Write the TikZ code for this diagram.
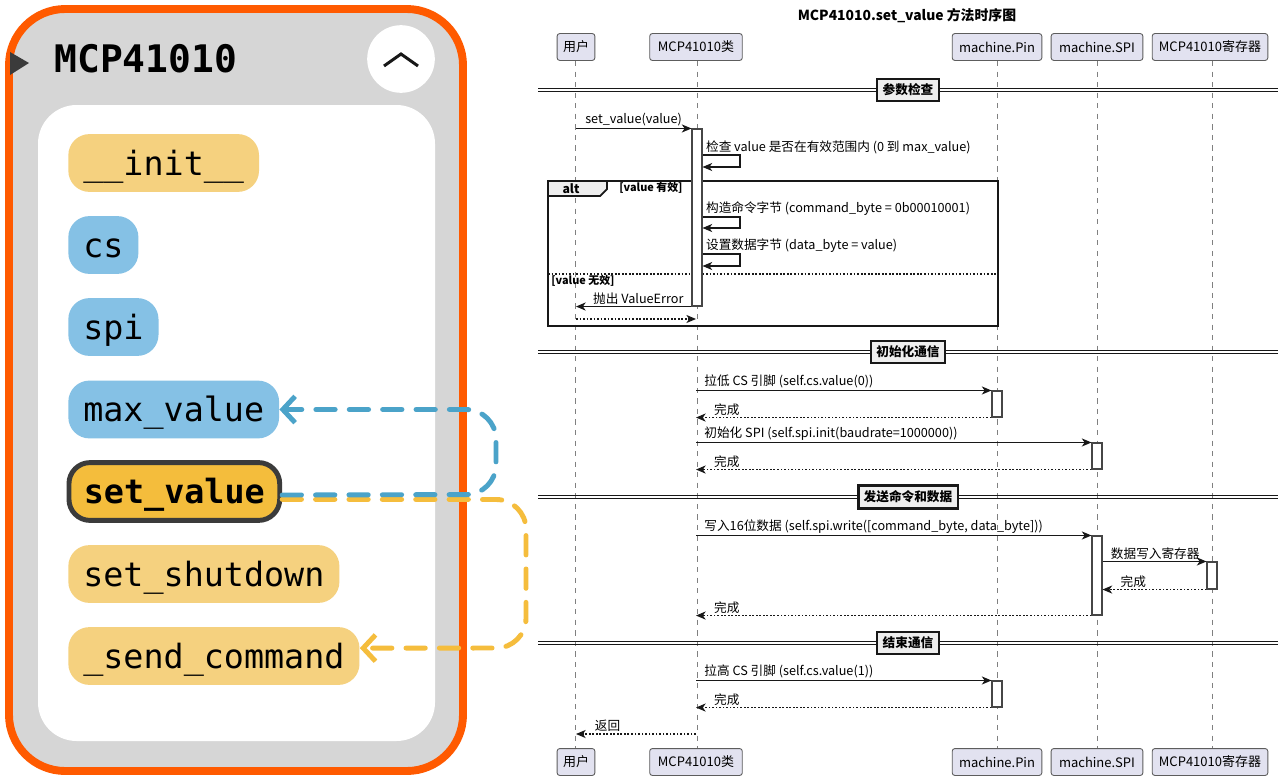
\documentclass[tikz,border=0pt]{standalone}
\usepackage{fontspec}
\setmainfont{Noto Sans CJK SC}
\newfontfamily\codefont{DejaVu Sans Mono}
\usetikzlibrary{arrows.meta,fit}
\definecolor{rim}{RGB}{255,90,0}
\definecolor{panel}{RGB}{214,214,214}
\definecolor{attr}{RGB}{133,193,229}
\definecolor{meth}{RGB}{245,209,127}
\definecolor{cur}{RGB}{244,189,60}
\definecolor{callblue}{RGB}{75,163,201}
\definecolor{callyel}{RGB}{245,189,61}
\definecolor{partfill}{RGB}{226,226,240}
\definecolor{sepfill}{RGB}{238,238,238}
\definecolor{ink}{RGB}{24,24,24}
\begin{document}
\begin{tikzpicture}[x=0.02cm, y=-0.02cm,
  pill/.style={anchor=west, rounded corners=12pt, minimum height=32.9pt, inner xsep=8.5pt, font=\codefont\fontsize{19}{19}\selectfont, text height=17pt, text depth=2.8pt},
  call/.style={line width=2.8pt, line cap=round, line join=round, dash pattern=on 11pt off 8pt, rounded corners=17pt, -{Straight Barb[length=7pt,width=15pt]}},
  part/.style={draw=ink!70, fill=partfill, line width=0.5pt, rounded corners=1.5pt, minimum height=15.3pt, font=\fontsize{7.4}{8}\selectfont, inner xsep=2pt},
  life/.style={draw=ink!55, line width=0.5pt, dash pattern=on 3pt off 3pt},
  act/.style={draw=ink!80, fill=white, line width=0.6pt, inner sep=0},
  msg/.style={draw=ink, line width=0.6pt, -{Stealth[length=5.5pt,width=4.6pt,inset=1.6pt]}},
  rtn/.style={msg, dash pattern=on 1pt off 1pt},
  lbl/.style={font=\fontsize{7.2}{8}\selectfont, inner sep=1pt, anchor=south west},
  sect/.style={draw=ink, fill=sepfill, line width=1.2pt, font=\bfseries\fontsize{7.2}{8}\selectfont, inner sep=3pt, minimum height=10.5pt}]
\fill[white] (0,0) rectangle (1280,781);
\useasboundingbox (0,0) rectangle (1280,781);

\draw[rim, line width=4.5pt, fill=panel, rounded corners=32pt] (9,9) rectangle (463,771);
\fill[white, rounded corners=22pt] (38,105) rectangle (435,741);
\fill[ink!85] (10,52) -- (29,63) -- (10,75) -- cycle;
\node[anchor=west, inner sep=0, font=\codefont\bfseries\fontsize{21.6}{22}\selectfont] (title) at (54,59) {MCP41010};
\node[circle, fill=white, minimum size=38.5pt, inner sep=0] (tog) at (401,59) {};
\draw[ink, line width=1.7pt] (384,66) -- (401,54) -- (418,66);

\node[pill, fill=meth] (init) at (68,163) {\_\_init\_\_};
\node[pill, fill=attr] (cs) at (68,245) {cs};
\node[pill, fill=attr] (spi) at (68,327) {spi};
\node[pill, fill=attr] (maxv) at (68,409.5) {max\_value};
\node[pill, fill=cur, draw=ink!85, line width=2.8pt, font=\codefont\bfseries\fontsize{19}{19}\selectfont] (setv) at (66.5,491.5) {set\_value};
\node[pill, fill=meth] (shut) at (68,574) {set\_shutdown};
\node[pill, fill=meth] (sendc) at (68,656) {\_send\_command};
\draw[call, callyel] ([yshift=-4.5pt]setv.east) -- (526,499.5) -- (526,648) -- ([yshift=4.5pt]sendc.east);
\draw[call, callblue] ([yshift=-2pt]setv.east) -- (496,494.5) -- (496,409.5) -- (maxv.east);

\node[font=\bfseries\fontsize{7.9}{9}\selectfont] (head) at (907,16) {MCP41010.set\_value 方法时序图};
\node[part, minimum width=21.5pt] (usrT) at (576,47) {用户};
\node[part, minimum width=52.7pt] (clsT) at (696,47) {MCP41010类};
\node[part, minimum width=51pt] (pinT) at (997,47) {machine.Pin};
\node[part, minimum width=52.2pt] (spiT) at (1097,47) {machine.SPI};
\node[part, minimum width=65.8pt] (regT) at (1210,47) {MCP41010寄存器};
\node[part, minimum width=21.5pt] (usrB) at (576,762) {用户};
\node[part, minimum width=52.7pt] (clsB) at (696,762) {MCP41010类};
\node[part, minimum width=51pt] (pinB) at (997,762) {machine.Pin};
\node[part, minimum width=52.2pt] (spiB) at (1097,762) {machine.SPI};
\node[part, minimum width=65.8pt] (regB) at (1210,762) {MCP41010寄存器};
\draw[life] (575,61) -- (575,748);
\draw[life] (697,61) -- (697,748);
\draw[life] (997,61) -- (997,748);
\draw[life] (1097,61) -- (1097,748);
\draw[life] (1212,61) -- (1212,748);

\foreach \y/\t [count=\i] in {90/参数检查, 352/初始化通信, 497/发送命令和数据, 643/结束通信} {
  \draw[ink, line width=0.5pt] (538,\y-1.6) -- (1278,\y-1.6) (538,\y+1.6) -- (1278,\y+1.6);
  \node[sect] (div\i) at (908,\y) {\t};
}

\draw[ink, line width=1.2pt] (548,181) rectangle (998,326);
\draw[ink, line width=1pt, fill=sepfill] (548,181) -- (607,181) -- (607,189) -- (600,196) -- (548,196) -- cycle;
\node[font=\bfseries\fontsize{7}{8}\selectfont, inner sep=0] (alt) at (571,188.5) {alt};
\node[font=\bfseries\fontsize{6.2}{7}\selectfont, anchor=west, inner sep=0] (yes) at (619,188) {\relax[value 有效]};
\draw[ink, line width=0.6pt, dash pattern=on 1pt off 1pt] (548,274) -- (998,274);
\node[font=\bfseries\fontsize{6.2}{7}\selectfont, anchor=west, inner sep=0] (no) at (551,280.5) {\relax[value 无效]};

\node[act, fit={(692,129) (702,306)}] (a1) {};
\node[act, fit={(992,391) (1002,417)}] (p1) {};
\node[act, fit={(1092,443) (1102,469)}] (s1) {};
\node[act, fit={(1092,536) (1102,615)}] (s2) {};
\node[act, fit={(1207,562) (1217,589)}] (r1) {};
\node[act, fit={(992,681) (1002,707)}] (p2) {};

\draw[msg] (usrT |- a1.north) -- (a1.north west) node[lbl, pos=0, xshift=4pt] {set\_value(value)};
\draw[msg] (a1.east |- 0,155) -- (740,155) -- (740,167) -- (a1.east |- 0,167);
\node[lbl] (chk) at (704,156) {检查 value 是否在有效范围内 (0 到 max\_value)};
\draw[msg] (a1.east |- 0,217) -- (740,217) -- (740,228) -- (a1.east |- 0,228);
\node[lbl] (cmd) at (704,218) {构造命令字节 (command\_byte = 0b00010001)};
\draw[msg] (a1.east |- 0,254) -- (740,254) -- (740,266) -- (a1.east |- 0,266);
\node[lbl] (dat) at (704,255) {设置数据字节 (data\_byte = value)};
\draw[msg] (a1.south west) -- (usrT |- a1.south) node[lbl, pos=1, xshift=8.5pt] {抛出 ValueError};
\draw[rtn] (usrT |- 0,319) -- (clsT |- 0,319);

\draw[msg] (clsT |- p1.north) -- (p1.north west) node[lbl, pos=0, xshift=3.5pt] {拉低 CS 引脚 (self.cs.value(0))};
\draw[rtn] (p1.south west) -- (clsT |- p1.south) node[lbl, pos=1, xshift=9pt] {完成};
\draw[msg] (clsT |- s1.north) -- (s1.north west) node[lbl, pos=0, xshift=3.5pt] {初始化 SPI (self.spi.init(baudrate=1000000))};
\draw[rtn] (s1.south west) -- (clsT |- s1.south) node[lbl, pos=1, xshift=9pt] {完成};

\draw[msg] (clsT |- s2.north) -- (s2.north west) node[lbl, pos=0, xshift=3.5pt] {写入16位数据 (self.spi.write([command\_byte, data\_byte]))};
\draw[msg] (s2.east |- r1.north) -- (r1.north west) node[lbl, pos=0, xshift=3.5pt] {数据写入寄存器};
\draw[rtn] (r1.south west) -- (s2.east |- r1.south) node[lbl, pos=1, xshift=9pt] {完成};
\draw[rtn] (s2.south west) -- (clsT |- s2.south) node[lbl, pos=1, xshift=9pt] {完成};

\draw[msg] (clsT |- p2.north) -- (p2.north west) node[lbl, pos=0, xshift=3.5pt] {拉高 CS 引脚 (self.cs.value(1))};
\draw[rtn] (p2.south west) -- (clsT |- p2.south) node[lbl, pos=1, xshift=9pt] {完成};
\draw[rtn] (clsT |- 0,734) -- (usrT |- 0,734) node[lbl, pos=1, xshift=9.5pt] {返回};
\end{tikzpicture}
\end{document}
